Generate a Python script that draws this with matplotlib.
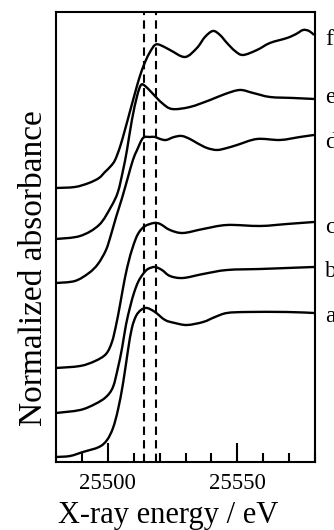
import matplotlib
matplotlib.use("Agg")
import matplotlib.pyplot as plt
from matplotlib.path import Path
from matplotlib.patches import PathPatch
from matplotlib.ticker import MultipleLocator

plt.rcParams['font.family'] = ['Liberation Serif', 'DejaVu Serif']

# spectra (energy in eV, normalized absorbance incl. vertical offset)
energy_a = [25480.0, 25485.4, 25490.4, 25496.6, 25499.7, 25502.0, 25503.9, 25505.9, 25507.8,
            25509.3, 25510.9, 25512.8, 25515.1, 25518.2, 25522.1, 25525.9, 25530.6, 25536.8,
            25541.4, 25546.0, 25553.7, 25569.2, 25579.6]
absorb_a = [0.05, 0.06, 0.10, 0.15, 0.22, 0.34, 0.52, 0.79, 1.12,
            1.34, 1.46, 1.52, 1.54, 1.50, 1.42, 1.39, 1.37, 1.40,
            1.45, 1.49, 1.50, 1.50, 1.49]

energy_b = [25480.0, 25489.3, 25495.1, 25499.3, 25502.0, 25503.9, 25505.5, 25507.0, 25508.6,
            25510.1, 25511.7, 25513.6, 25515.5, 25518.2, 25520.9, 25524.0, 25529.0, 25536.8,
            25546.0, 25558.8, 25569.2, 25579.6]
absorb_b = [0.49, 0.52, 0.58, 0.65, 0.75, 0.94, 1.14, 1.37, 1.55,
            1.69, 1.80, 1.88, 1.93, 1.95, 1.92, 1.86, 1.84, 1.88,
            1.92, 1.93, 1.94, 1.95]

energy_c = [25480.0, 25489.3, 25495.1, 25499.3, 25501.6, 25503.2, 25504.7, 25506.6, 25508.2,
            25509.3, 25510.9, 25512.4, 25514.4, 25517.8, 25520.2, 25524.0, 25529.0, 25536.8,
            25546.0, 25558.8, 25569.2, 25579.6]
absorb_c = [0.94, 0.96, 1.01, 1.08, 1.20, 1.37, 1.57, 1.84, 2.02,
            2.12, 2.24, 2.31, 2.36, 2.39, 2.38, 2.32, 2.29, 2.33,
            2.37, 2.36, 2.38, 2.40]

energy_d = [25480.0, 25487.3, 25492.7, 25496.2, 25499.3, 25501.2, 25503.2, 25505.5, 25507.8,
            25509.7, 25511.3, 25513.6, 25516.3, 25518.2, 25520.2, 25522.5, 25525.6, 25528.6,
            25531.7, 25534.4, 25538.3, 25542.2, 25546.0, 25549.9, 25557.6, 25566.5, 25574.2,
            25579.6]
absorb_d = [1.79, 1.81, 1.89, 1.98, 2.12, 2.27, 2.45, 2.64, 2.85,
            3.02, 3.12, 3.24, 3.25, 3.25, 3.23, 3.22, 3.25, 3.26,
            3.23, 3.19, 3.14, 3.12, 3.14, 3.17, 3.23, 3.22, 3.25,
            3.27]

energy_e = [25480.0, 25489.3, 25496.6, 25501.2, 25503.9, 25505.9, 25507.4, 25509.3, 25511.3,
            25512.8, 25514.4, 25517.1, 25520.9, 25524.8, 25531.7, 25539.5, 25545.3, 25551.0,
            25556.1, 25562.6, 25571.5, 25579.6]
absorb_e = [2.23, 2.26, 2.37, 2.55, 2.70, 2.92, 3.12, 3.42, 3.66,
            3.77, 3.76, 3.69, 3.59, 3.53, 3.55, 3.62, 3.68, 3.72,
            3.69, 3.65, 3.64, 3.63]

energy_f = [25480.0, 25487.3, 25492.7, 25496.6, 25498.9, 25501.2, 25502.8, 25504.7, 25506.6,
            25508.6, 25510.5, 25512.4, 25514.4, 25516.3, 25518.2, 25520.2, 25524.0, 25529.8,
            25534.4, 25537.5, 25540.6, 25543.3, 25546.0, 25549.1, 25552.2, 25557.6, 25562.6,
            25569.2, 25572.7, 25575.4, 25577.7, 25579.6]
absorb_f = [2.74, 2.75, 2.79, 2.84, 2.90, 2.96, 3.02, 3.15, 3.32,
            3.51, 3.69, 3.86, 4.00, 4.10, 4.17, 4.17, 4.12, 4.05,
            4.14, 4.25, 4.31, 4.27, 4.19, 4.11, 4.07, 4.12, 4.19,
            4.24, 4.28, 4.32, 4.31, 4.27]

labels = ['a', 'b', 'c', 'd', 'e', 'f']
label_y = [1.40, 1.85, 2.29, 3.14, 3.59, 4.17]
dashed_energy = [25514.0, 25518.6]

spectra = [(energy_a, absorb_a), (energy_b, absorb_b), (energy_c, absorb_c),
           (energy_d, absorb_d), (energy_e, absorb_e), (energy_f, absorb_f)]


def smooth_path(x, y):
    # draw the read points as one smooth bezier path (catmull-rom style handles)
    pts = list(zip(x, y))
    verts = [pts[0]]
    codes = [Path.MOVETO]
    n = len(pts)
    for i in range(n - 1):
        p0 = pts[max(i - 1, 0)]
        p1 = pts[i]
        p2 = pts[i + 1]
        p3 = pts[min(i + 2, n - 1)]
        c1 = (p1[0] + (p2[0] - p0[0]) / 6, p1[1] + (p2[1] - p0[1]) / 6)
        c2 = (p2[0] - (p3[0] - p1[0]) / 6, p2[1] - (p3[1] - p1[1]) / 6)
        verts += [c1, c2, p2]
        codes += [Path.CURVE4] * 3
    return Path(verts, codes)


fig = plt.figure(figsize=(3.34, 5.30), dpi=100)
ax = fig.add_axes([0.1677, 0.1283, 0.7755, 0.8491])

for x, y in spectra:
    ax.add_patch(PathPatch(smooth_path(x, y), facecolor='none', edgecolor='black', lw=1.7))

for e in dashed_energy:
    ax.axvline(e, color='black', lw=1.5, dashes=(4, 2.5))

for lab, y in zip(labels, label_y):
    ax.text(25583.9, y, lab, fontsize=17, va='baseline', ha='left', clip_on=False)

ax.set_xlim(25480, 25580)
ax.set_ylim(0, 4.5)
ax.xaxis.set_major_locator(MultipleLocator(50))
ax.xaxis.set_minor_locator(MultipleLocator(10))
ax.tick_params(axis='x', which='both', direction='in', top=False, width=1.5, labelsize=16.5, pad=8)
ax.tick_params(axis='x', which='major', length=13.5)
ax.tick_params(axis='x', which='minor', length=6.5)
ax.set_yticks([])
for s in ax.spines.values():
    s.set_linewidth(1.5)

# axis titles centred on the figure, as in the original
fig.text(0.503, 0.0132, 'X-ray energy / eV', fontsize=22, ha='center', va='baseline')
fig.text(0.1257, 0.494, 'Normalized absorbance', fontsize=24, rotation=90,
         rotation_mode='anchor', ha='center', va='baseline')

fig.savefig('out.png', dpi=100)
